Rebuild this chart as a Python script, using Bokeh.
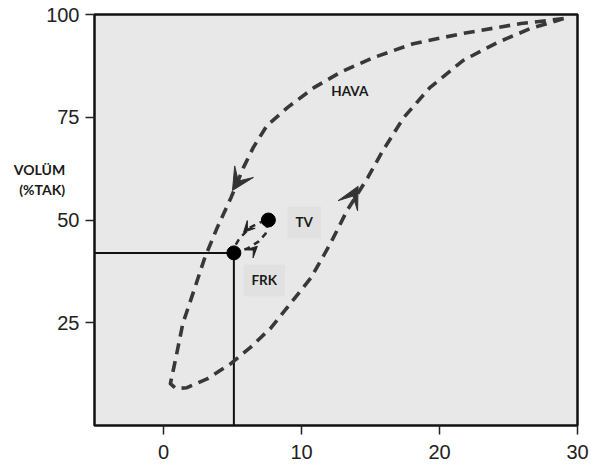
from bokeh.plotting import figure
from bokeh.models import Range1d, FixedTicker, Arrow, VeeHead, Label, ColumnDataSource
from bokeh.embed import file_html
from bokeh.resources import INLINE

# Big (air) pressure-volume loop
loop_x = [29.0, 25.9, 21.7, 18.1, 15.2, 12.8, 10.9, 9.0, 7.5, 6.5, 5.8, 4.9, 3.9, 3.0,
          2.2, 1.4, 0.9, 0.5, 0.9, 1.7, 3.2, 4.9, 6.3, 7.8, 9.2, 10.7, 12.1, 13.3,
          14.8, 15.9, 17.4, 19.3, 21.7, 24.2, 26.6, 29.0]
loop_y = [99.0, 97.8, 95.4, 92.9, 89.5, 85.9, 82.2, 77.4, 73.0, 67.6, 62.8, 55.5, 48.2, 40.9,
          32.8, 24.8, 16.5, 10.2, 9.0, 9.2, 11.4, 15.1, 19.0, 23.8, 29.7, 36.0, 44.3, 52.3,
          60.3, 66.9, 74.9, 82.2, 88.8, 93.2, 96.6, 99.0]

# Small tidal-volume loop
tv_x = [5.1, 6.1, 6.9, 7.4, 7.6, 7.0, 6.3, 5.5, 5.2, 5.1]
tv_y = [42.0, 43.1, 44.8, 46.7, 50.0, 49.4, 48.2, 45.5, 43.8, 42.0]

# Points: FRK and TV
pt_x = [5.1, 7.6]
pt_y = [42.0, 50.0]

# FRK reference lines
frk_x = 5.1
frk_y = 42.0

# Arrow heads (start -> tip)
arr_x0 = [5.9, 13.1]
arr_y0 = [62.1, 51.8]
arr_x1 = [5.0, 14.1]
arr_y1 = [57.2, 58.2]
sarr_x0 = [6.5, 6.1]
sarr_y0 = [49.4, 41.4]
sarr_x1 = [5.8, 6.8]
sarr_y1 = [47.0, 43.6]

# Labels
lab_text = ["HAVA", "TV", "FRK"]
lab_x = [13.5, 10.2, 7.3]
lab_y = [81.3, 49.4, 35.3]

y_title = "VOLÜM\n(%TAK)"
x_ticks = [0, 10, 20, 30]
y_ticks = [25, 50, 75, 100]

p = figure(width=591, height=470, output_backend="svg", toolbar_location=None,
           x_range=Range1d(-5, 30), y_range=Range1d(0, 100),
           min_border_left=94, min_border_right=14, min_border_top=14, min_border_bottom=45)

p.background_fill_color = "#e8e8e8"
p.border_fill_color = "white"
p.outline_line_color = "#111111"
p.outline_line_width = 2.5
p.grid.visible = False

for ax in (p.xaxis, p.yaxis):
    ax.axis_line_color = None
    ax.major_tick_line_color = "#222222"
    ax.major_tick_line_width = 1.5
    ax.major_tick_out = 9
    ax.major_tick_in = 0
    ax.minor_tick_line_color = None
    ax.major_label_text_font = "Liberation Sans"
    ax.major_label_text_font_size = "20px"
    ax.major_label_text_color = "#222222"
p.xaxis.ticker = FixedTicker(ticks=x_ticks)
p.yaxis.ticker = FixedTicker(ticks=y_ticks)
p.xaxis.major_label_standoff = 10
p.yaxis.major_label_standoff = 6

# y-axis title, horizontal, lifted above the frame centre by trailing blank lines
p.yaxis.axis_label = y_title + "\n \n \n \n "
p.yaxis.axis_label_orientation = "horizontal"
p.yaxis.axis_label_standoff = -22
p.yaxis.axis_label_text_font = "Lato"
p.yaxis.axis_label_text_font_style = "bold"
p.yaxis.axis_label_text_font_size = "14px"
p.yaxis.axis_label_text_color = "#1a1a1a"

# FRK reference lines
p.line([-5, frk_x], [frk_y, frk_y], line_color="#111111", line_width=2)
p.line([frk_x, frk_x], [0, frk_y], line_color="#111111", line_width=2)

# big loop
p.line(loop_x, loop_y, line_color="#383838", line_width=3.6, line_dash="11 7",
       line_join="round")
# small loop
p.line(tv_x, tv_y, line_color="#2a2a2a", line_width=2.5, line_dash="6 5")

p.scatter(pt_x, pt_y, size=14, fill_color="black", line_color="black")

asrc = ColumnDataSource(dict(x0=arr_x0, y0=arr_y0, x1=arr_x1, y1=arr_y1))
p.add_layout(Arrow(source=asrc, x_start="x0", y_start="y0", x_end="x1", y_end="y1",
                   line_color=None,
                   end=VeeHead(size=22, fill_color="#333333", line_color="#333333")))
ssrc = ColumnDataSource(dict(x0=sarr_x0, y0=sarr_y0, x1=sarr_x1, y1=sarr_y1))
p.add_layout(Arrow(source=ssrc, x_start="x0", y_start="y0", x_end="x1", y_end="y1",
                   line_color=None,
                   end=VeeHead(size=11, fill_color="#222222", line_color="#222222")))

for t, x, y in zip(lab_text, lab_x, lab_y):
    p.add_layout(Label(x=x, y=y, text=t, text_align="center", text_baseline="middle",
                       text_font="Lato", text_font_style="bold", text_font_size="13.5px",
                       text_color="#1a1a1a",
                       background_fill_color=None if t == "HAVA" else "#e1e1e1",
                       padding=8))

open("out.html", "w").write(file_html(p, INLINE))
